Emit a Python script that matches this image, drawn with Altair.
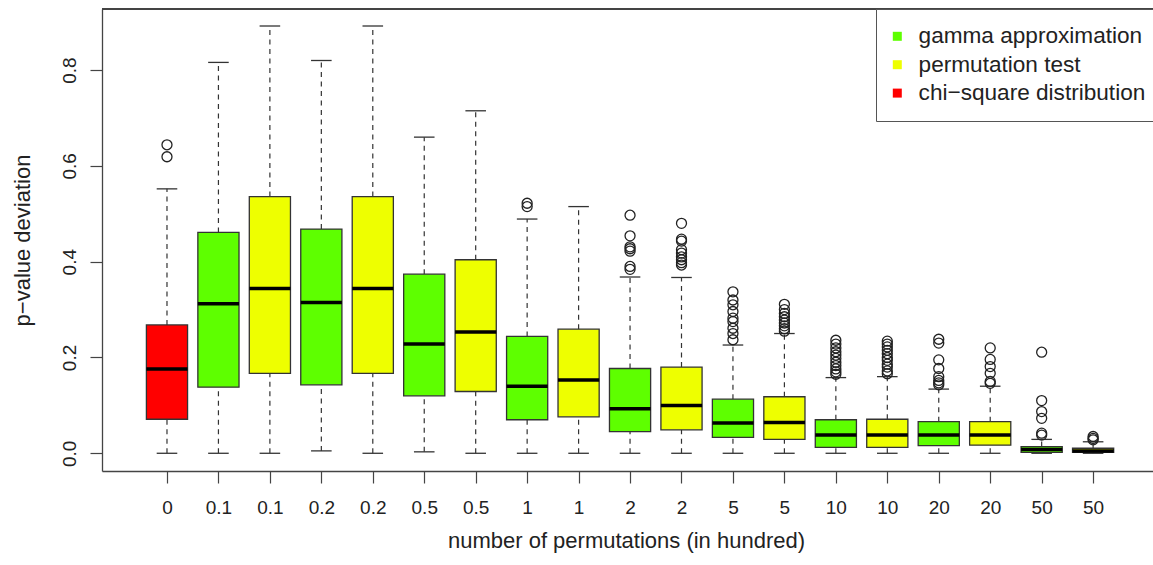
import altair as alt
import pandas as pd

# ---- data ----
labels = ["0", "0.1", "0.1", "0.2", "0.2", "0.5", "0.5", "1", "1", "2", "2",
          "5", "5", "10", "10", "20", "20", "50", "50"]
methods = ["chi\u2212square distribution"] + ["gamma approximation", "permutation test"] * 9
lower = [0.0, 0.0, 0.0, 0.005, 0.0, 0.003, 0.0, 0.0, 0.0, 0.0, 0.0,
         0.0, 0.0, 0.0, 0.0, 0.0, 0.0, 0.0, 0.0]
q1 = [0.071, 0.138, 0.167, 0.143, 0.167, 0.120, 0.129, 0.070, 0.076, 0.045, 0.049,
      0.033, 0.029, 0.0125, 0.0125, 0.016, 0.017, 0.002, 0.002]
median = [0.176, 0.312, 0.344, 0.315, 0.344, 0.228, 0.253, 0.140, 0.153, 0.093, 0.100,
          0.063, 0.064, 0.038, 0.038, 0.038, 0.038, 0.008, 0.005]
q3 = [0.268, 0.461, 0.536, 0.468, 0.536, 0.374, 0.404, 0.244, 0.259, 0.177, 0.180,
      0.113, 0.118, 0.070, 0.071, 0.066, 0.066, 0.014, 0.0105]
upper = [0.552, 0.816, 0.892, 0.820, 0.892, 0.660, 0.715, 0.489, 0.515, 0.368, 0.367,
         0.226, 0.250, 0.158, 0.160, 0.134, 0.140, 0.029, 0.024]

out_pos = ([1] * 2 + [8] * 2 + [10] * 7 + [11] * 9 + [12] * 9 + [13] * 9 +
           [14] * 11 + [15] * 11 + [16] * 8 + [17] * 6 + [18] * 6 + [19] * 3)
out_val = ([0.644, 0.619] +
           [0.522, 0.515] +
           [0.497, 0.454, 0.431, 0.427, 0.422, 0.390, 0.384] +
           [0.480, 0.447, 0.443, 0.425, 0.418, 0.410, 0.404, 0.398, 0.393] +
           [0.337, 0.320, 0.310, 0.296, 0.282, 0.275, 0.261, 0.250, 0.237] +
           [0.311, 0.300, 0.292, 0.285, 0.278, 0.272, 0.266, 0.260, 0.255] +
           [0.236, 0.228, 0.220, 0.212, 0.205, 0.198, 0.190, 0.183, 0.176, 0.170, 0.165] +
           [0.234, 0.228, 0.222, 0.215, 0.208, 0.200, 0.194, 0.186, 0.180, 0.172, 0.166] +
           [0.238, 0.230, 0.195, 0.177, 0.160, 0.152, 0.147, 0.143] +
           [0.220, 0.196, 0.181, 0.167, 0.150, 0.146] +
           [0.211, 0.110, 0.087, 0.073, 0.042, 0.038] +
           [0.035, 0.031, 0.028])

legend_order = ["gamma approximation", "permutation test", "chi\u2212square distribution"]
legend_colors = ["#5EFF00", "#EEFF00", "#FF0000"]

# ---- tables ----
pos = list(range(1, len(labels) + 1))
df = pd.DataFrame({
    "pos": pos, "label": labels, "method": methods,
    "lower": lower, "q1": q1, "median": median, "q3": q3, "upper": upper,
})
df["lo"] = df["pos"] - 0.4
df["hi"] = df["pos"] + 0.4
df["clo"] = df["pos"] - 0.2
df["chi"] = df["pos"] + 0.2
out_df = pd.DataFrame({"pos": out_pos, "val": out_val})

FONT = "Liberation Sans"
TXT = "#222222"
LINE = "#333333"

label_js = "[" + ",".join("'%s'" % l for l in labels) + "]"

xscale = alt.Scale(domain=[-0.263, 20.164], nice=False, zero=False)
yscale = alt.Scale(domain=[-0.037, 0.9275], nice=False, zero=False)

xaxis = alt.Axis(
    values=pos, labelExpr=label_js + "[datum.value-1]",
    title="number of permutations (in hundred)", grid=False,
    tickSize=12, labelPadding=30, labelBaseline="alphabetic",
    labelFontSize=19, labelFont=FONT, labelColor=TXT,
    labelOverlap=False, labelFlush=False,
    titleFontSize=22, titleFont=FONT, titleColor=TXT, titleFontWeight="normal",
    titleX=524, titleY=76, titleBaseline="alphabetic", titleAlign="center",
    domainColor="#444444", tickColor="#444444", domainWidth=1.3, tickWidth=1.2,
)
yaxis = alt.Axis(
    values=[0.0, 0.2, 0.4, 0.6, 0.8], format=".1f",
    title="p\u2212value deviation", grid=False,
    tickSize=12, labelPadding=15, labelAngle=270, labelAlign="center",
    labelBaseline="alphabetic",
    labelFontSize=19, labelFont=FONT, labelColor=TXT,
    labelOverlap=False, labelFlush=False,
    titleFontSize=22, titleFont=FONT, titleColor=TXT, titleFontWeight="normal",
    titleAngle=270, titleX=-73, titleY=231, titleBaseline="alphabetic",
    titleAlign="center",
    domainColor="#444444", tickColor="#444444", domainWidth=1.3, tickWidth=1.2,
)

base = alt.Chart(df)

whisk_up = base.mark_rule(color=LINE, strokeWidth=1.2, strokeDash=[5, 4.5]).encode(
    x=alt.X("pos:Q", scale=xscale, axis=xaxis),
    y=alt.Y("q3:Q", scale=yscale, axis=yaxis),
    y2="upper:Q",
)
whisk_lo = base.mark_rule(color=LINE, strokeWidth=1.2, strokeDash=[5, 4.5]).encode(
    x="pos:Q", y="lower:Q", y2="q1:Q",
)
cap_up = base.mark_rule(color=LINE, strokeWidth=1.3).encode(
    x="clo:Q", x2="chi:Q", y="upper:Q",
)
cap_lo = base.mark_rule(color=LINE, strokeWidth=1.3).encode(
    x="clo:Q", x2="chi:Q", y="lower:Q",
)
boxes = base.mark_rect(stroke=LINE, strokeWidth=1.3).encode(
    x="lo:Q", x2="hi:Q", y="q1:Q", y2="q3:Q",
    fill=alt.Fill(
        "method:N",
        scale=alt.Scale(domain=legend_order, range=legend_colors),
        legend=alt.Legend(
            title=None, orient="none", legendX=774, legendY=0,
            strokeColor="#555555", fillColor="white", padding=16,
            symbolType="square", symbolSize=81, symbolStrokeWidth=0,
            symbolOffset=-6,
            labelFontSize=22.6, labelFont=FONT, labelColor=TXT,
            labelOffset=10, rowPadding=5.4, cornerRadius=0,
            labelLimit=400,
        ),
    ),
)
medians = base.mark_rule(color="#000000", strokeWidth=3.5).encode(
    x="lo:Q", x2="hi:Q", y="median:Q",
)
outliers = alt.Chart(out_df).mark_point(
    shape="circle", filled=False, color="#222222", size=100, strokeWidth=1.3, opacity=1
).encode(x="pos:Q", y="val:Q")

top_line = alt.Chart(df).mark_rule(color="#444444", strokeWidth=1.3).encode(
    x=alt.value(0), x2=alt.value(1051), y=alt.value(0),
)

chart = alt.layer(
    whisk_up, whisk_lo, cap_up, cap_lo, boxes, medians, outliers, top_line
).properties(
    width=1051, height=462,
    autosize=alt.AutoSizeParams(type="none"),
    padding={"left": 102, "top": 9, "right": 0, "bottom": 94},
    background="white",
).configure_view(stroke=None)

chart.save("out.html", embed_options={"renderer": "svg", "actions": False})
